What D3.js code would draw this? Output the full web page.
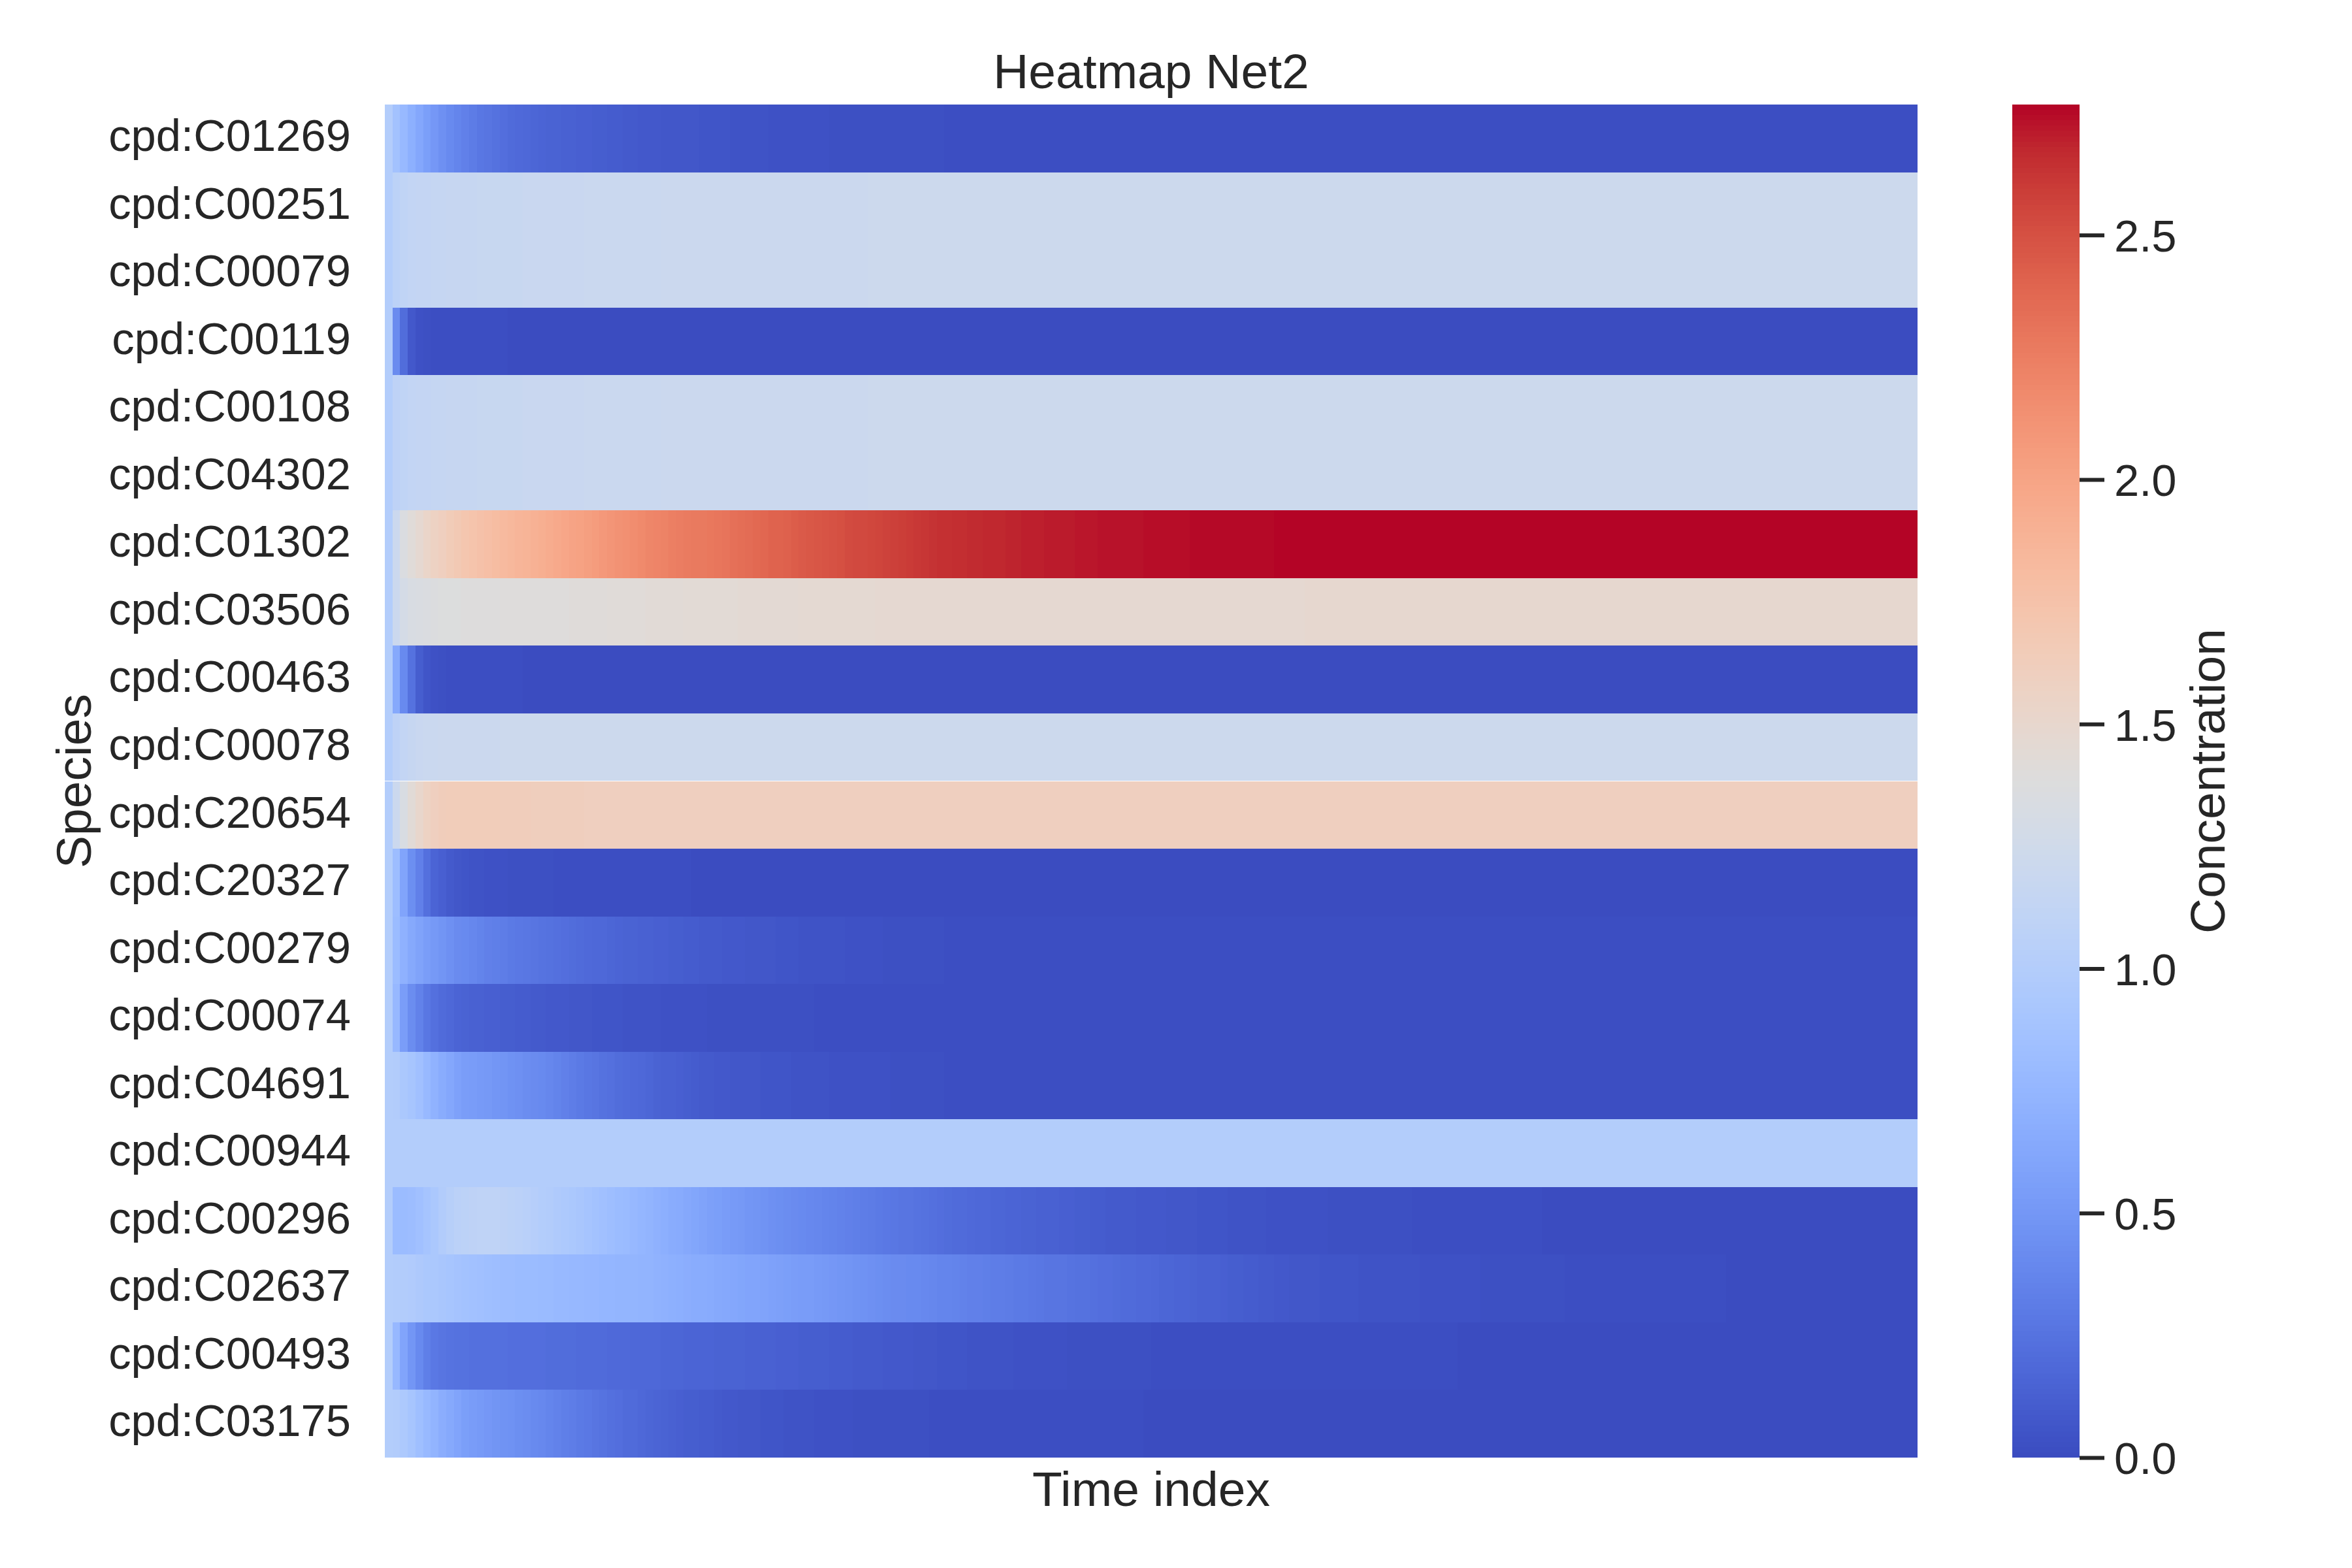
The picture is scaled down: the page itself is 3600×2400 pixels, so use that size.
<!DOCTYPE html>
<html>
<head>
<meta charset="utf-8">
<script src="https://cdn.jsdelivr.net/npm/d3@7"></script>
<style>
  html, body { margin: 0; padding: 0; background: #ffffff; }
  svg { display: block; }
  text { font-family: "Liberation Sans", Arial, "DejaVu Sans", sans-serif; fill: #262626; }
</style>
</head>
<body>
<svg id="chart" width="3600" height="2400"></svg>
<script>
// ---------------- DATA ----------------
const species = [
  "cpd:C01269", "cpd:C00251", "cpd:C00079", "cpd:C00119", "cpd:C00108",
  "cpd:C04302", "cpd:C01302", "cpd:C03506", "cpd:C00463", "cpd:C00078",
  "cpd:C20654", "cpd:C20327", "cpd:C00279", "cpd:C00074", "cpd:C04691",
  "cpd:C00944", "cpd:C00296", "cpd:C02637", "cpd:C00493", "cpd:C03175"
];

// concentration of each species over 200 time steps
const c01269 = [
1,0.87,0.78,0.7,0.62, 0.56,0.5,0.45,0.41,0.37, 0.34,0.31,0.28,0.26,0.24, 0.22,0.2,0.19,0.18,0.17,
0.16,0.15,0.145,0.14,0.13, 0.125,0.12,0.115,0.11,0.105, 0.1,0.095,0.09,0.085,0.08, 0.078,0.075,0.072,0.07,0.067,
0.065,0.062,0.06,0.058,0.055, 0.053,0.051,0.049,0.047,0.045, 0.043,0.041,0.04,0.038,0.037, 0.035,0.034,0.033,0.032,0.031,
0.03,0.029,0.028,0.027,0.026, 0.026,0.025,0.025,0.024,0.024, 0.023,0.023,0.022,0.021,0.021, 0.02,0.02,0.019,0.019,0.018,
0.018,0.018,0.017,0.017,0.017, 0.016,0.016,0.016,0.016,0.015, 0.015,0.015,0.015,0.015,0.014, 0.014,0.014,0.014,0.014,0.014,
0.014,0.014,0.013,0.013,0.013, 0.013,0.013,0.013,0.013,0.013, 0.013,0.013,0.013,0.013,0.013, 0.013,0.013,0.013,0.013,0.013,
0.012,0.012,0.012,0.012,0.012, 0.012,0.012,0.012,0.012,0.012, 0.012,0.012,0.012,0.012,0.012, 0.012,0.012,0.012,0.012,0.012,
0.012,0.012,0.012,0.012,0.012, 0.012,0.012,0.012,0.012,0.012, 0.012,0.012,0.012,0.012,0.012, 0.012,0.012,0.012,0.012,0.012,
0.012,0.012,0.012,0.012,0.012, 0.012,0.012,0.012,0.012,0.012, 0.012,0.012,0.012,0.012,0.012, 0.012,0.012,0.012,0.012,0.012,
0.012,0.012,0.012,0.012,0.012, 0.012,0.012,0.012,0.012,0.012, 0.012,0.012,0.012,0.012,0.012, 0.012,0.012,0.012,0.012,0.012
];
const c00251 = [
1,1.08,1.11,1.13,1.14, 1.145,1.15,1.155,1.16,1.16, 1.165,1.165,1.17,1.17,1.17, 1.175,1.175,1.175,1.18,1.18,
1.18,1.18,1.185,1.185,1.185, 1.185,1.19,1.19,1.19,1.19, 1.19,1.195,1.195,1.195,1.195, 1.195,1.2,1.2,1.2,1.2,
1.2,1.2,1.2,1.2,1.205, 1.205,1.205,1.205,1.205,1.205, 1.205,1.21,1.21,1.21,1.21, 1.21,1.21,1.21,1.21,1.21,
1.21,1.21,1.21,1.215,1.215, 1.215,1.215,1.215,1.215,1.215, 1.215,1.215,1.215,1.215,1.215, 1.215,1.215,1.22,1.22,1.22,
1.22,1.22,1.22,1.22,1.22, 1.22,1.22,1.22,1.22,1.22, 1.22,1.22,1.22,1.22,1.22, 1.22,1.22,1.22,1.22,1.22,
1.22,1.22,1.22,1.22,1.22, 1.22,1.22,1.22,1.22,1.22, 1.22,1.22,1.22,1.22,1.22, 1.22,1.22,1.22,1.22,1.22,
1.22,1.22,1.22,1.22,1.22, 1.22,1.22,1.22,1.22,1.22, 1.22,1.22,1.22,1.22,1.22, 1.22,1.22,1.22,1.22,1.22,
1.22,1.22,1.22,1.22,1.22, 1.22,1.22,1.22,1.22,1.22, 1.22,1.22,1.22,1.22,1.22, 1.22,1.22,1.22,1.22,1.22,
1.22,1.22,1.22,1.22,1.22, 1.22,1.22,1.22,1.22,1.22, 1.22,1.22,1.22,1.22,1.22, 1.22,1.22,1.22,1.22,1.22,
1.22,1.22,1.22,1.22,1.22, 1.22,1.22,1.22,1.22,1.22, 1.22,1.22,1.22,1.22,1.22, 1.22,1.22,1.22,1.22,1.22
];
const c00079 = [
1,1.08,1.11,1.13,1.14, 1.145,1.15,1.155,1.16,1.16, 1.165,1.165,1.17,1.17,1.17, 1.175,1.175,1.175,1.18,1.18,
1.18,1.18,1.185,1.185,1.185, 1.185,1.19,1.19,1.19,1.19, 1.19,1.195,1.195,1.195,1.195, 1.195,1.2,1.2,1.2,1.2,
1.2,1.2,1.2,1.2,1.205, 1.205,1.205,1.205,1.205,1.205, 1.205,1.21,1.21,1.21,1.21, 1.21,1.21,1.21,1.21,1.21,
1.21,1.21,1.21,1.215,1.215, 1.215,1.215,1.215,1.215,1.215, 1.215,1.215,1.215,1.215,1.215, 1.215,1.215,1.22,1.22,1.22,
1.22,1.22,1.22,1.22,1.22, 1.22,1.22,1.22,1.22,1.22, 1.22,1.22,1.22,1.22,1.22, 1.22,1.22,1.22,1.22,1.22,
1.22,1.22,1.22,1.22,1.22, 1.22,1.22,1.22,1.22,1.22, 1.22,1.22,1.22,1.22,1.22, 1.22,1.22,1.22,1.22,1.22,
1.22,1.22,1.22,1.22,1.22, 1.22,1.22,1.22,1.22,1.22, 1.22,1.22,1.22,1.22,1.22, 1.22,1.22,1.22,1.22,1.22,
1.22,1.22,1.22,1.22,1.22, 1.22,1.22,1.22,1.22,1.22, 1.22,1.22,1.22,1.22,1.22, 1.22,1.22,1.22,1.22,1.22,
1.22,1.22,1.22,1.22,1.22, 1.22,1.22,1.22,1.22,1.22, 1.22,1.22,1.22,1.22,1.22, 1.22,1.22,1.22,1.22,1.22,
1.22,1.22,1.22,1.22,1.22, 1.22,1.22,1.22,1.22,1.22, 1.22,1.22,1.22,1.22,1.22, 1.22,1.22,1.22,1.22,1.22
];
const c00119 = [
1,0.42,0.21,0.08,0.04, 0.025,0.02,0.018,0.016,0.015, 0.014,0.013,0.012,0.012,0.011, 0.011,0.01,0.01,0.01,0.01,
0.01,0.01,0.01,0.01,0.01, 0.01,0.01,0.01,0.01,0.01, 0.01,0.01,0.01,0.01,0.01, 0.01,0.01,0.01,0.01,0.01,
0.01,0.01,0.01,0.01,0.01, 0.01,0.01,0.01,0.01,0.01, 0.01,0.01,0.01,0.01,0.01, 0.01,0.01,0.01,0.01,0.01,
0.01,0.01,0.01,0.01,0.01, 0.01,0.01,0.01,0.01,0.01, 0.01,0.01,0.01,0.01,0.01, 0.01,0.01,0.01,0.01,0.01,
0.009,0.009,0.009,0.009,0.009, 0.009,0.009,0.009,0.009,0.009, 0.009,0.009,0.009,0.009,0.009, 0.009,0.009,0.009,0.009,0.009,
0.009,0.009,0.009,0.009,0.009, 0.009,0.009,0.009,0.009,0.009, 0.009,0.009,0.009,0.009,0.009, 0.009,0.009,0.009,0.009,0.009,
0.009,0.009,0.009,0.009,0.009, 0.009,0.009,0.009,0.009,0.009, 0.009,0.009,0.009,0.009,0.009, 0.009,0.009,0.009,0.009,0.009,
0.009,0.009,0.009,0.009,0.009, 0.009,0.009,0.009,0.009,0.009, 0.009,0.009,0.009,0.009,0.009, 0.009,0.009,0.009,0.009,0.009,
0.009,0.009,0.009,0.009,0.009, 0.009,0.009,0.009,0.009,0.009, 0.009,0.009,0.009,0.009,0.009, 0.009,0.009,0.009,0.009,0.009,
0.009,0.009,0.009,0.009,0.009, 0.009,0.009,0.009,0.009,0.009, 0.009,0.009,0.009,0.009,0.009, 0.009,0.009,0.009,0.009,0.009
];
const c00108 = [
1,1.09,1.11,1.13,1.14, 1.145,1.15,1.155,1.16,1.16, 1.165,1.165,1.17,1.17,1.17, 1.175,1.175,1.175,1.18,1.18,
1.18,1.18,1.185,1.185,1.185, 1.185,1.19,1.19,1.19,1.19, 1.19,1.195,1.195,1.195,1.195, 1.195,1.2,1.2,1.2,1.2,
1.2,1.2,1.2,1.2,1.205, 1.205,1.205,1.205,1.205,1.205, 1.205,1.21,1.21,1.21,1.21, 1.21,1.21,1.21,1.21,1.21,
1.21,1.21,1.21,1.215,1.215, 1.215,1.215,1.215,1.215,1.215, 1.215,1.215,1.215,1.215,1.215, 1.215,1.215,1.22,1.22,1.22,
1.22,1.22,1.22,1.22,1.22, 1.22,1.22,1.22,1.22,1.22, 1.22,1.22,1.22,1.22,1.22, 1.22,1.22,1.22,1.22,1.22,
1.22,1.22,1.22,1.22,1.22, 1.22,1.22,1.22,1.22,1.22, 1.22,1.22,1.22,1.22,1.22, 1.22,1.22,1.22,1.22,1.22,
1.22,1.22,1.22,1.22,1.22, 1.22,1.22,1.22,1.22,1.22, 1.22,1.22,1.22,1.22,1.22, 1.22,1.22,1.22,1.22,1.22,
1.22,1.22,1.22,1.22,1.22, 1.22,1.22,1.22,1.22,1.22, 1.22,1.22,1.22,1.22,1.22, 1.22,1.22,1.22,1.22,1.22,
1.22,1.22,1.22,1.22,1.22, 1.22,1.22,1.22,1.22,1.22, 1.22,1.22,1.22,1.22,1.22, 1.22,1.22,1.22,1.22,1.22,
1.22,1.22,1.22,1.22,1.22, 1.22,1.22,1.22,1.22,1.22, 1.22,1.22,1.22,1.22,1.22, 1.22,1.22,1.22,1.22,1.22
];
const c04302 = [
1,1.09,1.11,1.13,1.14, 1.145,1.15,1.155,1.16,1.16, 1.165,1.165,1.17,1.17,1.17, 1.175,1.175,1.175,1.18,1.18,
1.18,1.18,1.185,1.185,1.185, 1.185,1.19,1.19,1.19,1.19, 1.19,1.195,1.195,1.195,1.195, 1.195,1.2,1.2,1.2,1.2,
1.2,1.2,1.2,1.2,1.205, 1.205,1.205,1.205,1.205,1.205, 1.205,1.21,1.21,1.21,1.21, 1.21,1.21,1.21,1.21,1.21,
1.21,1.21,1.21,1.215,1.215, 1.215,1.215,1.215,1.215,1.215, 1.215,1.215,1.215,1.215,1.215, 1.215,1.215,1.22,1.22,1.22,
1.22,1.22,1.22,1.22,1.22, 1.22,1.22,1.22,1.22,1.22, 1.22,1.22,1.22,1.22,1.22, 1.22,1.22,1.22,1.22,1.22,
1.22,1.22,1.22,1.22,1.22, 1.22,1.22,1.22,1.22,1.22, 1.22,1.22,1.22,1.22,1.22, 1.22,1.22,1.22,1.22,1.22,
1.22,1.22,1.22,1.22,1.22, 1.22,1.22,1.22,1.22,1.22, 1.22,1.22,1.22,1.22,1.22, 1.22,1.22,1.22,1.22,1.22,
1.22,1.22,1.22,1.22,1.22, 1.22,1.22,1.22,1.22,1.22, 1.22,1.22,1.22,1.22,1.22, 1.22,1.22,1.22,1.22,1.22,
1.22,1.22,1.22,1.22,1.22, 1.22,1.22,1.22,1.22,1.22, 1.22,1.22,1.22,1.22,1.22, 1.22,1.22,1.22,1.22,1.22,
1.22,1.22,1.22,1.22,1.22, 1.22,1.22,1.22,1.22,1.22, 1.22,1.22,1.22,1.22,1.22, 1.22,1.22,1.22,1.22,1.22
];
const c01302 = [
1,1.2,1.36,1.42,1.48, 1.53,1.57,1.61,1.65,1.68, 1.71,1.74,1.76,1.78,1.8, 1.82,1.84,1.86,1.88,1.9,
1.92,1.94,1.96,1.98,2, 2.02,2.04,2.06,2.08,2.1, 2.12,2.14,2.16,2.18,2.2, 2.21,2.22,2.24,2.25,2.26,
2.27,2.28,2.29,2.3,2.31, 2.33,2.34,2.35,2.37,2.38, 2.4,2.41,2.42,2.44,2.45, 2.46,2.47,2.48,2.49,2.5,
2.52,2.53,2.54,2.55,2.56, 2.57,2.58,2.59,2.6,2.61, 2.62,2.63,2.64,2.645,2.65, 2.655,2.66,2.665,2.67,2.675,
2.68,2.684,2.688,2.692,2.696, 2.7,2.703,2.706,2.709,2.712, 2.715,2.718,2.721,2.724,2.726, 2.728,2.73,2.732,2.734,2.736,
2.738,2.74,2.742,2.744,2.745, 2.746,2.747,2.748,2.749,2.75, 2.751,2.752,2.753,2.754,2.755, 2.756,2.757,2.758,2.759,2.76,
2.761,2.762,2.763,2.764,2.765, 2.766,2.767,2.767,2.767,2.767, 2.767,2.767,2.767,2.767,2.767, 2.767,2.767,2.767,2.767,2.767,
2.767,2.767,2.767,2.767,2.767, 2.767,2.767,2.767,2.767,2.767, 2.767,2.767,2.767,2.767,2.767, 2.767,2.767,2.767,2.767,2.767,
2.767,2.767,2.767,2.767,2.767, 2.767,2.767,2.767,2.767,2.767, 2.767,2.767,2.767,2.767,2.767, 2.767,2.767,2.767,2.767,2.767,
2.767,2.767,2.767,2.767,2.767, 2.767,2.767,2.767,2.767,2.767, 2.767,2.767,2.767,2.767,2.767, 2.767,2.767,2.767,2.767,2.767
];
const c03506 = [
1,1.2,1.29,1.33,1.35, 1.36,1.37,1.375,1.38,1.38, 1.385,1.385,1.39,1.39,1.39, 1.395,1.395,1.395,1.4,1.4,
1.4,1.4,1.405,1.405,1.41, 1.41,1.41,1.415,1.415,1.42, 1.42,1.42,1.425,1.425,1.43, 1.43,1.43,1.435,1.435,1.44,
1.44,1.44,1.44,1.445,1.445, 1.445,1.45,1.45,1.45,1.45, 1.455,1.455,1.455,1.455,1.46, 1.46,1.46,1.46,1.46,1.465,
1.465,1.465,1.465,1.465,1.47, 1.47,1.47,1.47,1.47,1.47, 1.475,1.475,1.475,1.475,1.475, 1.475,1.475,1.48,1.48,1.48,
1.48,1.48,1.48,1.48,1.48, 1.48,1.48,1.48,1.48,1.48, 1.48,1.48,1.48,1.48,1.48, 1.48,1.48,1.48,1.48,1.48,
1.48,1.48,1.48,1.48,1.48, 1.48,1.48,1.48,1.48,1.48, 1.48,1.48,1.48,1.48,1.48, 1.48,1.48,1.48,1.48,1.48,
1.485,1.485,1.485,1.485,1.485, 1.485,1.485,1.485,1.485,1.485, 1.485,1.485,1.485,1.485,1.485, 1.485,1.485,1.485,1.485,1.485,
1.485,1.485,1.485,1.485,1.485, 1.485,1.485,1.485,1.485,1.485, 1.485,1.485,1.485,1.485,1.485, 1.485,1.485,1.485,1.485,1.485,
1.485,1.485,1.485,1.485,1.485, 1.485,1.485,1.485,1.485,1.485, 1.485,1.485,1.485,1.485,1.485, 1.485,1.485,1.485,1.485,1.485,
1.485,1.485,1.485,1.485,1.485, 1.485,1.485,1.485,1.485,1.485, 1.485,1.485,1.485,1.485,1.485, 1.485,1.485,1.485,1.485,1.485
];
const c00463 = [
1,0.64,0.4,0.24,0.11, 0.06,0.04,0.025,0.02,0.018, 0.016,0.015,0.014,0.013,0.012, 0.012,0.011,0.011,0.01,0.01,
0.01,0.01,0.01,0.01,0.01, 0.01,0.01,0.01,0.01,0.01, 0.01,0.01,0.01,0.01,0.01, 0.01,0.01,0.01,0.01,0.01,
0.01,0.01,0.01,0.01,0.01, 0.01,0.01,0.01,0.01,0.01, 0.01,0.01,0.01,0.01,0.01, 0.01,0.01,0.01,0.01,0.01,
0.01,0.01,0.01,0.01,0.01, 0.01,0.01,0.01,0.01,0.01, 0.01,0.01,0.01,0.01,0.01, 0.01,0.01,0.01,0.01,0.01,
0.009,0.009,0.009,0.009,0.009, 0.009,0.009,0.009,0.009,0.009, 0.009,0.009,0.009,0.009,0.009, 0.009,0.009,0.009,0.009,0.009,
0.009,0.009,0.009,0.009,0.009, 0.009,0.009,0.009,0.009,0.009, 0.009,0.009,0.009,0.009,0.009, 0.009,0.009,0.009,0.009,0.009,
0.009,0.009,0.009,0.009,0.009, 0.009,0.009,0.009,0.009,0.009, 0.009,0.009,0.009,0.009,0.009, 0.009,0.009,0.009,0.009,0.009,
0.009,0.009,0.009,0.009,0.009, 0.009,0.009,0.009,0.009,0.009, 0.009,0.009,0.009,0.009,0.009, 0.009,0.009,0.009,0.009,0.009,
0.009,0.009,0.009,0.009,0.009, 0.009,0.009,0.009,0.009,0.009, 0.009,0.009,0.009,0.009,0.009, 0.009,0.009,0.009,0.009,0.009,
0.009,0.009,0.009,0.009,0.009, 0.009,0.009,0.009,0.009,0.009, 0.009,0.009,0.009,0.009,0.009, 0.009,0.009,0.009,0.009,0.009
];
const c00078 = [
1,1.09,1.13,1.16,1.18, 1.19,1.195,1.2,1.2,1.205, 1.205,1.21,1.21,1.21,1.21, 1.215,1.215,1.215,1.215,1.215,
1.22,1.22,1.22,1.22,1.22, 1.22,1.22,1.22,1.22,1.22, 1.22,1.22,1.22,1.22,1.22, 1.22,1.22,1.22,1.22,1.22,
1.22,1.22,1.22,1.22,1.22, 1.22,1.22,1.22,1.22,1.22, 1.22,1.22,1.22,1.22,1.22, 1.22,1.22,1.22,1.22,1.22,
1.22,1.22,1.22,1.22,1.22, 1.22,1.22,1.22,1.22,1.22, 1.22,1.22,1.22,1.22,1.22, 1.22,1.22,1.22,1.22,1.22,
1.22,1.22,1.22,1.22,1.22, 1.22,1.22,1.22,1.22,1.22, 1.22,1.22,1.22,1.22,1.22, 1.22,1.22,1.22,1.22,1.22,
1.22,1.22,1.22,1.22,1.22, 1.22,1.22,1.22,1.22,1.22, 1.22,1.22,1.22,1.22,1.22, 1.22,1.22,1.22,1.22,1.22,
1.22,1.22,1.22,1.22,1.22, 1.22,1.22,1.22,1.22,1.22, 1.22,1.22,1.22,1.22,1.22, 1.22,1.22,1.22,1.22,1.22,
1.22,1.22,1.22,1.22,1.22, 1.22,1.22,1.22,1.22,1.22, 1.22,1.22,1.22,1.22,1.22, 1.22,1.22,1.22,1.22,1.22,
1.22,1.22,1.22,1.22,1.22, 1.22,1.22,1.22,1.22,1.22, 1.22,1.22,1.22,1.22,1.22, 1.22,1.22,1.22,1.22,1.22,
1.22,1.22,1.22,1.22,1.22, 1.22,1.22,1.22,1.22,1.22, 1.22,1.22,1.22,1.22,1.22, 1.22,1.22,1.22,1.22,1.22
];
const c20654 = [
1,1.2,1.33,1.43,1.51, 1.57,1.61,1.63,1.635,1.64, 1.64,1.64,1.64,1.635,1.635, 1.63,1.63,1.625,1.625,1.62,
1.62,1.62,1.615,1.615,1.615, 1.615,1.61,1.61,1.61,1.61, 1.61,1.61,1.605,1.605,1.605, 1.605,1.605,1.605,1.605,1.605,
1.605,1.605,1.605,1.605,1.605, 1.605,1.605,1.605,1.605,1.605, 1.605,1.605,1.605,1.605,1.605, 1.605,1.605,1.605,1.605,1.605,
1.605,1.605,1.605,1.605,1.605, 1.605,1.605,1.605,1.605,1.605, 1.605,1.605,1.605,1.605,1.605, 1.605,1.605,1.605,1.605,1.605,
1.605,1.605,1.605,1.605,1.605, 1.605,1.605,1.605,1.605,1.605, 1.605,1.605,1.605,1.605,1.605, 1.605,1.605,1.605,1.605,1.605,
1.605,1.605,1.605,1.605,1.605, 1.605,1.605,1.605,1.605,1.605, 1.605,1.605,1.605,1.605,1.605, 1.605,1.605,1.605,1.605,1.605,
1.605,1.605,1.605,1.605,1.605, 1.605,1.605,1.605,1.605,1.605, 1.605,1.605,1.605,1.605,1.605, 1.605,1.605,1.605,1.605,1.605,
1.605,1.605,1.605,1.605,1.605, 1.605,1.605,1.605,1.605,1.605, 1.605,1.605,1.605,1.605,1.605, 1.605,1.605,1.605,1.605,1.605,
1.605,1.605,1.605,1.605,1.605, 1.605,1.605,1.605,1.605,1.605, 1.605,1.605,1.605,1.605,1.605, 1.605,1.605,1.605,1.605,1.605,
1.605,1.605,1.605,1.605,1.605, 1.605,1.605,1.605,1.605,1.605, 1.605,1.605,1.605,1.605,1.605, 1.605,1.605,1.605,1.605,1.605
];
const c20327 = [
1,0.82,0.6,0.44,0.34, 0.23,0.16,0.12,0.09,0.07, 0.06,0.05,0.045,0.04,0.036, 0.033,0.03,0.028,0.026,0.024,
0.023,0.022,0.021,0.02,0.019, 0.018,0.017,0.016,0.015,0.015, 0.014,0.014,0.013,0.013,0.012, 0.012,0.012,0.011,0.011,0.011,
0.01,0.01,0.01,0.01,0.01, 0.01,0.01,0.01,0.01,0.01, 0.01,0.01,0.01,0.01,0.01, 0.01,0.01,0.01,0.01,0.01,
0.01,0.01,0.01,0.01,0.01, 0.01,0.01,0.01,0.01,0.01, 0.01,0.01,0.01,0.01,0.01, 0.01,0.01,0.01,0.01,0.01,
0.01,0.01,0.01,0.01,0.01, 0.01,0.01,0.01,0.01,0.01, 0.01,0.01,0.01,0.01,0.01, 0.01,0.01,0.01,0.01,0.01,
0.01,0.01,0.01,0.01,0.01, 0.01,0.01,0.01,0.01,0.01, 0.01,0.01,0.01,0.01,0.01, 0.01,0.01,0.01,0.01,0.01,
0.01,0.01,0.01,0.01,0.01, 0.01,0.01,0.01,0.01,0.01, 0.01,0.01,0.01,0.01,0.01, 0.01,0.01,0.01,0.01,0.01,
0.01,0.01,0.01,0.01,0.01, 0.01,0.01,0.01,0.01,0.01, 0.01,0.01,0.01,0.01,0.01, 0.01,0.01,0.01,0.01,0.01,
0.01,0.01,0.01,0.01,0.01, 0.01,0.01,0.01,0.01,0.01, 0.01,0.01,0.01,0.01,0.01, 0.01,0.01,0.01,0.01,0.01,
0.01,0.01,0.01,0.01,0.01, 0.01,0.01,0.01,0.01,0.01, 0.01,0.01,0.01,0.01,0.01, 0.01,0.01,0.01,0.01,0.01
];
const c00279 = [
1,0.8,0.71,0.64,0.59, 0.55,0.51,0.48,0.45,0.42, 0.4,0.38,0.36,0.345,0.33, 0.315,0.3,0.29,0.275,0.265,
0.25,0.24,0.23,0.22,0.21, 0.2,0.19,0.18,0.175,0.165, 0.16,0.15,0.145,0.14,0.13, 0.125,0.12,0.115,0.11,0.105,
0.1,0.096,0.092,0.088,0.084, 0.08,0.077,0.074,0.071,0.068, 0.065,0.062,0.059,0.056,0.054, 0.052,0.05,0.048,0.046,0.044,
0.042,0.04,0.038,0.036,0.034, 0.032,0.03,0.029,0.028,0.027, 0.026,0.025,0.023,0.021,0.02, 0.019,0.018,0.017,0.016,0.016,
0.015,0.015,0.015,0.015,0.015, 0.015,0.015,0.015,0.015,0.015, 0.015,0.015,0.015,0.015,0.015, 0.015,0.015,0.015,0.015,0.015,
0.013,0.013,0.013,0.013,0.013, 0.013,0.013,0.013,0.013,0.013, 0.013,0.013,0.013,0.013,0.013, 0.013,0.013,0.013,0.013,0.013,
0.012,0.012,0.012,0.012,0.012, 0.012,0.012,0.012,0.012,0.012, 0.012,0.012,0.012,0.012,0.012, 0.012,0.012,0.012,0.012,0.012,
0.012,0.012,0.012,0.012,0.012, 0.012,0.012,0.012,0.012,0.012, 0.012,0.012,0.012,0.012,0.012, 0.012,0.012,0.012,0.012,0.012,
0.012,0.012,0.012,0.012,0.012, 0.012,0.012,0.012,0.012,0.012, 0.012,0.012,0.012,0.012,0.012, 0.012,0.012,0.012,0.012,0.012,
0.012,0.012,0.012,0.012,0.012, 0.012,0.012,0.012,0.012,0.012, 0.012,0.012,0.012,0.012,0.012, 0.012,0.012,0.012,0.012,0.012
];
const c00074 = [
1,0.77,0.55,0.43,0.35, 0.28,0.23,0.2,0.18,0.16, 0.15,0.14,0.13,0.125,0.12, 0.115,0.11,0.105,0.1,0.095,
0.09,0.086,0.082,0.078,0.074, 0.07,0.067,0.064,0.061,0.058, 0.055,0.052,0.05,0.048,0.046, 0.044,0.042,0.04,0.038,0.036,
0.034,0.033,0.032,0.031,0.03, 0.029,0.028,0.027,0.026,0.025, 0.024,0.024,0.023,0.023,0.022, 0.022,0.021,0.021,0.02,0.02,
0.02,0.019,0.019,0.018,0.018, 0.017,0.017,0.016,0.016,0.016, 0.015,0.015,0.015,0.015,0.014, 0.014,0.014,0.014,0.014,0.013,
0.013,0.013,0.013,0.013,0.013, 0.013,0.013,0.013,0.013,0.013, 0.013,0.013,0.013,0.013,0.013, 0.013,0.013,0.013,0.013,0.013,
0.012,0.012,0.012,0.012,0.012, 0.012,0.012,0.012,0.012,0.012, 0.012,0.012,0.012,0.012,0.012, 0.012,0.012,0.012,0.012,0.012,
0.012,0.012,0.012,0.012,0.012, 0.012,0.012,0.012,0.012,0.012, 0.012,0.012,0.012,0.012,0.012, 0.012,0.012,0.012,0.012,0.012,
0.012,0.012,0.012,0.012,0.012, 0.012,0.012,0.012,0.012,0.012, 0.012,0.012,0.012,0.012,0.012, 0.012,0.012,0.012,0.012,0.012,
0.012,0.012,0.012,0.012,0.012, 0.012,0.012,0.012,0.012,0.012, 0.012,0.012,0.012,0.012,0.012, 0.012,0.012,0.012,0.012,0.012,
0.012,0.012,0.012,0.012,0.012, 0.012,0.012,0.012,0.012,0.012, 0.012,0.012,0.012,0.012,0.012, 0.012,0.012,0.012,0.012,0.012
];
const c04691 = [
1,0.99,0.94,0.9,0.85, 0.78,0.72,0.67,0.62,0.58, 0.55,0.53,0.52,0.51,0.49, 0.48,0.46,0.45,0.43,0.42,
0.4,0.38,0.36,0.34,0.32, 0.3,0.28,0.26,0.245,0.23, 0.21,0.2,0.19,0.175,0.165, 0.15,0.14,0.13,0.12,0.11,
0.1,0.095,0.09,0.085,0.08, 0.075,0.071,0.068,0.065,0.062, 0.06,0.057,0.055,0.052,0.05, 0.048,0.046,0.044,0.042,0.04,
0.039,0.038,0.037,0.035,0.034, 0.033,0.031,0.03,0.029,0.027, 0.026,0.025,0.023,0.021,0.021, 0.02,0.02,0.019,0.019,0.018,
0.018,0.017,0.017,0.017,0.016, 0.016,0.016,0.015,0.015,0.015, 0.015,0.014,0.014,0.014,0.014, 0.014,0.013,0.013,0.013,0.013,
0.013,0.013,0.013,0.013,0.013, 0.013,0.013,0.013,0.013,0.013, 0.013,0.013,0.013,0.013,0.013, 0.013,0.013,0.013,0.013,0.013,
0.012,0.012,0.012,0.012,0.012, 0.012,0.012,0.012,0.012,0.012, 0.012,0.012,0.012,0.012,0.012, 0.012,0.012,0.012,0.012,0.012,
0.012,0.012,0.012,0.012,0.012, 0.012,0.012,0.012,0.012,0.012, 0.012,0.012,0.012,0.012,0.012, 0.012,0.012,0.012,0.012,0.012,
0.012,0.012,0.012,0.012,0.012, 0.012,0.012,0.012,0.012,0.012, 0.012,0.012,0.012,0.012,0.012, 0.012,0.012,0.012,0.012,0.012,
0.012,0.012,0.012,0.012,0.012, 0.012,0.012,0.012,0.012,0.012, 0.012,0.012,0.012,0.012,0.012, 0.012,0.012,0.012,0.012,0.012
];
const c00944 = [
1,1,1,1,1, 1,1,1,1,1, 1,1,1,1,1, 1,1,1,1,1,
1,1,1,1,1, 1,1,1,1,1, 1,1,1,1,1, 1,1,1,1,1,
1,1,1,1,1, 1,1,1,1,1, 1,1,1,1,1, 1,1,1,1,1,
1,1,1,1,1, 1,1,1,1,1, 1,1,1,1,1, 1,1,1,1,1,
1,1,1,1,1, 1,1,1,1,1, 1,1,1,1,1, 1,1,1,1,1,
1,1,1,1,1, 1,1,1,1,1, 1,1,1,1,1, 1,1,1,1,1,
1,1,1,1,1, 1,1,1,1,1, 1,1,1,1,1, 1,1,1,1,1,
1,1,1,1,1, 1,1,1,1,1, 1,1,1,1,1, 1,1,1,1,1,
1,1,1,1,1, 1,1,1,1,1, 1,1,1,1,1, 1,1,1,1,1,
1,1,1,1,1, 1,1,1,1,1, 1,1,1,1,1, 1,1,1,1,1
];
const c00296 = [
1,0.8,0.81,0.82,0.85, 0.89,0.94,0.99,1.03,1.06, 1.08,1.09,1.1,1.1,1.1, 1.09,1.08,1.06,1.04,1.02,
1,0.985,0.97,0.95,0.93, 0.91,0.89,0.87,0.85,0.83, 0.81,0.79,0.77,0.75,0.73, 0.71,0.69,0.67,0.65,0.63,
0.61,0.59,0.57,0.555,0.54, 0.525,0.51,0.495,0.48,0.465, 0.45,0.44,0.43,0.42,0.405, 0.39,0.38,0.37,0.36,0.35,
0.34,0.33,0.32,0.31,0.3, 0.29,0.28,0.27,0.26,0.25, 0.24,0.23,0.22,0.21,0.2, 0.195,0.19,0.18,0.175,0.17,
0.165,0.16,0.155,0.15,0.145, 0.14,0.135,0.13,0.125,0.12, 0.115,0.11,0.105,0.1,0.097, 0.094,0.091,0.088,0.085,0.082,
0.08,0.077,0.074,0.071,0.068, 0.065,0.062,0.06,0.057,0.055, 0.053,0.051,0.049,0.047,0.045, 0.043,0.041,0.04,0.038,0.037,
0.035,0.034,0.033,0.032,0.031, 0.03,0.029,0.028,0.027,0.026, 0.025,0.024,0.023,0.022,0.021, 0.021,0.02,0.02,0.019,0.019,
0.018,0.017,0.017,0.016,0.015, 0.015,0.014,0.013,0.012,0.012, 0.011,0.0105,0.0102,0.01,0.0098, 0.0096,0.0094,0.0092,0.009,0.0088,
0.0086,0.0085,0.0084,0.0083,0.0082, 0.0081,0.008,0.008,0.008,0.008, 0.008,0.008,0.008,0.008,0.008, 0.008,0.008,0.008,0.008,0.008,
0.008,0.008,0.008,0.008,0.008, 0.008,0.008,0.008,0.008,0.008, 0.008,0.008,0.008,0.008,0.008, 0.008,0.008,0.008,0.008,0.008
];
const c02637 = [
1,0.99,0.99,0.98,0.96, 0.94,0.93,0.91,0.9,0.88, 0.87,0.86,0.85,0.84,0.83, 0.82,0.815,0.81,0.805,0.8,
0.795,0.79,0.785,0.78,0.775, 0.77,0.765,0.76,0.755,0.75, 0.745,0.74,0.735,0.73,0.725, 0.72,0.71,0.7,0.69,0.68,
0.67,0.66,0.65,0.64,0.635, 0.625,0.615,0.605,0.6,0.59, 0.58,0.57,0.56,0.55,0.54, 0.53,0.52,0.51,0.5,0.49,
0.48,0.47,0.46,0.45,0.44, 0.43,0.42,0.415,0.41,0.4, 0.39,0.38,0.375,0.37,0.36, 0.35,0.345,0.34,0.33,0.32,
0.315,0.31,0.3,0.295,0.29, 0.28,0.27,0.265,0.26,0.25, 0.245,0.24,0.23,0.225,0.22, 0.21,0.205,0.2,0.19,0.185,
0.18,0.17,0.165,0.16,0.155, 0.15,0.14,0.135,0.13,0.12, 0.115,0.11,0.105,0.1,0.095, 0.09,0.085,0.08,0.075,0.072,
0.07,0.067,0.064,0.062,0.06, 0.058,0.056,0.054,0.052,0.05, 0.049,0.048,0.047,0.046,0.045, 0.043,0.042,0.041,0.04,0.039,
0.037,0.035,0.034,0.032,0.031, 0.03,0.029,0.028,0.027,0.026, 0.025,0.024,0.023,0.022,0.021, 0.0205,0.02,0.0195,0.019,0.0185,
0.018,0.0175,0.017,0.0165,0.016, 0.0155,0.015,0.0145,0.014,0.0135, 0.013,0.0125,0.012,0.0115,0.011, 0.0105,0.0102,0.01,0.0098,0.0096,
0.0094,0.0092,0.009,0.0088,0.0086, 0.0084,0.0082,0.008,0.0078,0.0076, 0.0075,0.0074,0.0073,0.0072,0.0071, 0.007,0.007,0.007,0.007,0.007
];
const c00493 = [
1,0.77,0.6,0.49,0.4, 0.33,0.29,0.27,0.25,0.245, 0.24,0.237,0.234,0.232,0.23, 0.228,0.226,0.224,0.222,0.22,
0.218,0.215,0.212,0.21,0.207, 0.204,0.201,0.198,0.195,0.192, 0.189,0.186,0.183,0.18,0.177, 0.174,0.171,0.168,0.165,0.162,
0.16,0.157,0.154,0.151,0.148, 0.145,0.142,0.139,0.136,0.133, 0.13,0.127,0.124,0.121,0.118, 0.115,0.112,0.109,0.106,0.103,
0.1,0.097,0.094,0.091,0.088, 0.085,0.082,0.079,0.076,0.073, 0.07,0.067,0.064,0.061,0.058, 0.056,0.054,0.052,0.05,0.048,
0.046,0.044,0.042,0.04,0.038, 0.036,0.035,0.034,0.033,0.032, 0.031,0.03,0.029,0.028,0.027, 0.026,0.025,0.024,0.023,0.022,
0.021,0.02,0.019,0.019,0.018, 0.018,0.017,0.017,0.016,0.016, 0.015,0.015,0.014,0.014,0.013, 0.013,0.013,0.012,0.012,0.012,
0.011,0.011,0.011,0.011,0.011, 0.011,0.011,0.011,0.011,0.011, 0.011,0.011,0.011,0.011,0.011, 0.011,0.011,0.011,0.011,0.011,
0.01,0.01,0.01,0.01,0.01, 0.01,0.01,0.01,0.01,0.01, 0.01,0.01,0.01,0.01,0.01, 0.01,0.01,0.01,0.01,0.01,
0.01,0.01,0.01,0.01,0.01, 0.01,0.01,0.01,0.01,0.01, 0.01,0.01,0.01,0.01,0.01, 0.01,0.01,0.01,0.01,0.01,
0.01,0.01,0.01,0.01,0.01, 0.01,0.01,0.01,0.01,0.01, 0.01,0.01,0.01,0.01,0.01, 0.01,0.01,0.01,0.01,0.01
];
const c03175 = [
1,0.99,0.95,0.9,0.84, 0.78,0.73,0.68,0.64,0.6, 0.56,0.54,0.52,0.5,0.485, 0.47,0.455,0.44,0.425,0.41,
0.39,0.37,0.355,0.335,0.32, 0.3,0.285,0.27,0.25,0.235, 0.22,0.205,0.195,0.18,0.17, 0.155,0.145,0.135,0.125,0.115,
0.11,0.104,0.098,0.092,0.086, 0.08,0.075,0.07,0.066,0.062, 0.058,0.055,0.052,0.049,0.046, 0.044,0.042,0.04,0.038,0.036,
0.034,0.032,0.03,0.029,0.028, 0.027,0.026,0.025,0.024,0.023, 0.022,0.021,0.02,0.019,0.018, 0.017,0.016,0.016,0.015,0.015,
0.015,0.014,0.014,0.014,0.013, 0.013,0.013,0.013,0.012,0.012, 0.012,0.012,0.012,0.011,0.011, 0.011,0.011,0.011,0.011,0.0105,
0.01,0.01,0.01,0.01,0.01, 0.01,0.01,0.01,0.01,0.01, 0.01,0.01,0.01,0.01,0.01, 0.01,0.01,0.01,0.01,0.01,
0.01,0.01,0.01,0.01,0.01, 0.01,0.01,0.01,0.01,0.01, 0.01,0.01,0.01,0.01,0.01, 0.01,0.01,0.01,0.01,0.01,
0.01,0.01,0.01,0.01,0.01, 0.01,0.01,0.01,0.01,0.01, 0.01,0.01,0.01,0.01,0.01, 0.01,0.01,0.01,0.01,0.01,
0.01,0.01,0.01,0.01,0.01, 0.01,0.01,0.01,0.01,0.01, 0.01,0.01,0.01,0.01,0.01, 0.01,0.01,0.01,0.01,0.01,
0.01,0.01,0.01,0.01,0.01, 0.01,0.01,0.01,0.01,0.01, 0.01,0.01,0.01,0.01,0.01, 0.01,0.01,0.01,0.01,0.01
];

const concentrations = [
  c01269, c00251, c00079, c00119, c00108, c04302, c01302, c03506, c00463, c00078,
  c20654, c20327, c00279, c00074, c04691, c00944, c00296, c02637, c00493, c03175
];
const timeSteps = 200;
const colorDomain = [0, 2.767];
const colorbarTicks = [0, 0.5, 1.0, 1.5, 2.0, 2.5];
const titleText = "Heatmap Net2";
const xLabelText = "Time index";
const yLabelText = "Species";
const cbLabelText = "Concentration";

// ---------------- COLORMAP (matplotlib coolwarm anchors) ----------------
const CW_R = [0.2298057,0.26623388,0.30386891,0.342804478,0.38301334,0.424369608,0.46666708,0.509635204,0.552953156,0.596262162,0.639176211,0.681291281,0.722193294,0.761464949,0.798691636,0.833466556,0.865395197,0.897787179,0.924127593,0.944468518,0.958852946,0.96732803,0.969954137,0.966811177,0.958003065,0.943660866,0.923944917,0.89904617,0.869186849,0.834620542,0.795631745,0.752534934,0.705673158];
const CW_G = [0.298717966,0.353094838,0.406535296,0.458757618,0.50941904,0.558148092,0.604562568,0.648280772,0.688929332,0.726149107,0.759599947,0.788964712,0.813952739,0.834302879,0.849786142,0.860207984,0.86541021,0.848937047,0.827384882,0.800927443,0.769767752,0.734132809,0.694266682,0.650421156,0.602842431,0.551750968,0.49730856,0.439559467,0.378313092,0.312874446,0.24128379,0.157246067,0.01555616];
const CW_B = [0.753683153,0.801466763,0.84495867,0.883725899,0.917387822,0.945619588,0.968154911,0.98478814,0.995375608,0.999836203,0.998151185,0.990363227,0.976574709,0.956945269,0.931688648,0.901068838,0.865395561,0.820880546,0.774508472,0.726736146,0.678007945,0.628751763,0.579375448,0.530263762,0.481775914,0.434243684,0.387970225,0.343229596,0.300267182,0.259301199,0.220525627,0.184115123,0.150232812];
const anchorPos = CW_R.map((_, i) => i / (CW_R.length - 1));
const rS = d3.scaleLinear().domain(anchorPos).range(CW_R);
const gS = d3.scaleLinear().domain(anchorPos).range(CW_G);
const bS = d3.scaleLinear().domain(anchorPos).range(CW_B);
const LUT = d3.range(256).map(i => {
  const t = i / 255;
  return d3.rgb(Math.round(rS(t) * 255), Math.round(gS(t) * 255), Math.round(bS(t) * 255)).formatHex();
});
const norm = d3.scaleLinear().domain(colorDomain).range([0, 1]);
const colorOf = v => LUT[Math.max(0, Math.min(255, Math.floor(norm(v) * 256)))];

// ---------------- LAYOUT ----------------
const plot = { left: 589, right: 2935, top: 160, bottom: 2231 };
const cbar = { left: 3080, right: 3183 };
const FS_TICK = 68.75, FS_LABEL = 75;
const INK = "#262626";

const svg = d3.select("#chart");
svg.append("rect").attr("width", 3600).attr("height", 2400).attr("fill", "#ffffff");

const x = d3.scaleBand().domain(d3.range(timeSteps)).range([plot.left, plot.right]).padding(0);
const y = d3.scaleBand().domain(species).range([plot.top, plot.bottom]).padding(0);

// ---------------- HEATMAP CELLS ----------------
const cells = [];
concentrations.forEach((row, i) => row.forEach((v, j) => cells.push({ sp: species[i], t: j, v })));

svg.append("g").attr("class", "cells")
  .selectAll("rect")
  .data(cells)
  .join("rect")
  .attr("x", d => Math.round(x(d.t)))
  .attr("y", d => Math.round(y(d.sp)))
  .attr("width", d => Math.round(x(d.t) + x.bandwidth()) - Math.round(x(d.t)))
  .attr("height", d => Math.round(y(d.sp) + y.bandwidth()) - Math.round(y(d.sp)))
  .attr("fill", d => colorOf(d.v))
  .attr("shape-rendering", "crispEdges");

// ---------------- Y AXIS (species) ----------------
const yAxis = svg.append("g")
  .attr("transform", `translate(${plot.left},0)`)
  .call(d3.axisLeft(y).tickSize(0).tickPadding(52));
yAxis.select(".domain").remove();
yAxis.attr("font-size", null).attr("font-family", null);
yAxis.selectAll("text")
  .attr("font-size", FS_TICK)
  .attr("fill", INK)
  .attr("dy", "0.28em");

// ---------------- COLORBAR ----------------
const cbY = d3.scaleLinear().domain(colorDomain).range([plot.bottom, plot.top]);
const span = colorDomain[1] - colorDomain[0];
svg.append("g").attr("class", "colorbar")
  .selectAll("rect")
  .data(d3.range(256))
  .join("rect")
  .attr("x", cbar.left)
  .attr("width", cbar.right - cbar.left)
  .attr("y", k => Math.round(cbY(colorDomain[0] + (k + 1) / 256 * span)))
  .attr("height", k => Math.round(cbY(colorDomain[0] + k / 256 * span)) - Math.round(cbY(colorDomain[0] + (k + 1) / 256 * span)))
  .attr("fill", k => LUT[k])
  .attr("shape-rendering", "crispEdges");

const cbAxis = svg.append("g")
  .attr("transform", `translate(${cbar.right},0)`)
  .call(d3.axisRight(cbY).tickValues(colorbarTicks).tickFormat(d3.format(".1f")).tickSize(38).tickPadding(15));
cbAxis.select(".domain").remove();
cbAxis.attr("font-size", null).attr("font-family", null);
cbAxis.selectAll(".tick line").attr("stroke", INK).attr("stroke-width", 6);
cbAxis.selectAll("text").attr("font-size", FS_TICK).attr("fill", INK).attr("dy", "0.36em");

// ---------------- LABELS ----------------
const midX = (plot.left + plot.right) / 2;
const midY = (plot.top + plot.bottom) / 2;

svg.append("text")
  .attr("x", midX).attr("y", 135)
  .attr("text-anchor", "middle")
  .attr("font-size", FS_LABEL)
  .text(titleText);

svg.append("text")
  .attr("x", midX).attr("y", 2305)
  .attr("text-anchor", "middle")
  .attr("font-size", FS_LABEL)
  .text(xLabelText);

svg.append("text")
  .attr("transform", `translate(139,${midY}) rotate(-90)`)
  .attr("text-anchor", "middle")
  .attr("font-size", FS_LABEL)
  .text(yLabelText);

svg.append("text")
  .attr("transform", `translate(3405,${midY}) rotate(-90)`)
  .attr("text-anchor", "middle")
  .attr("font-size", FS_LABEL)
  .text(cbLabelText);
</script>
</body>
</html>
